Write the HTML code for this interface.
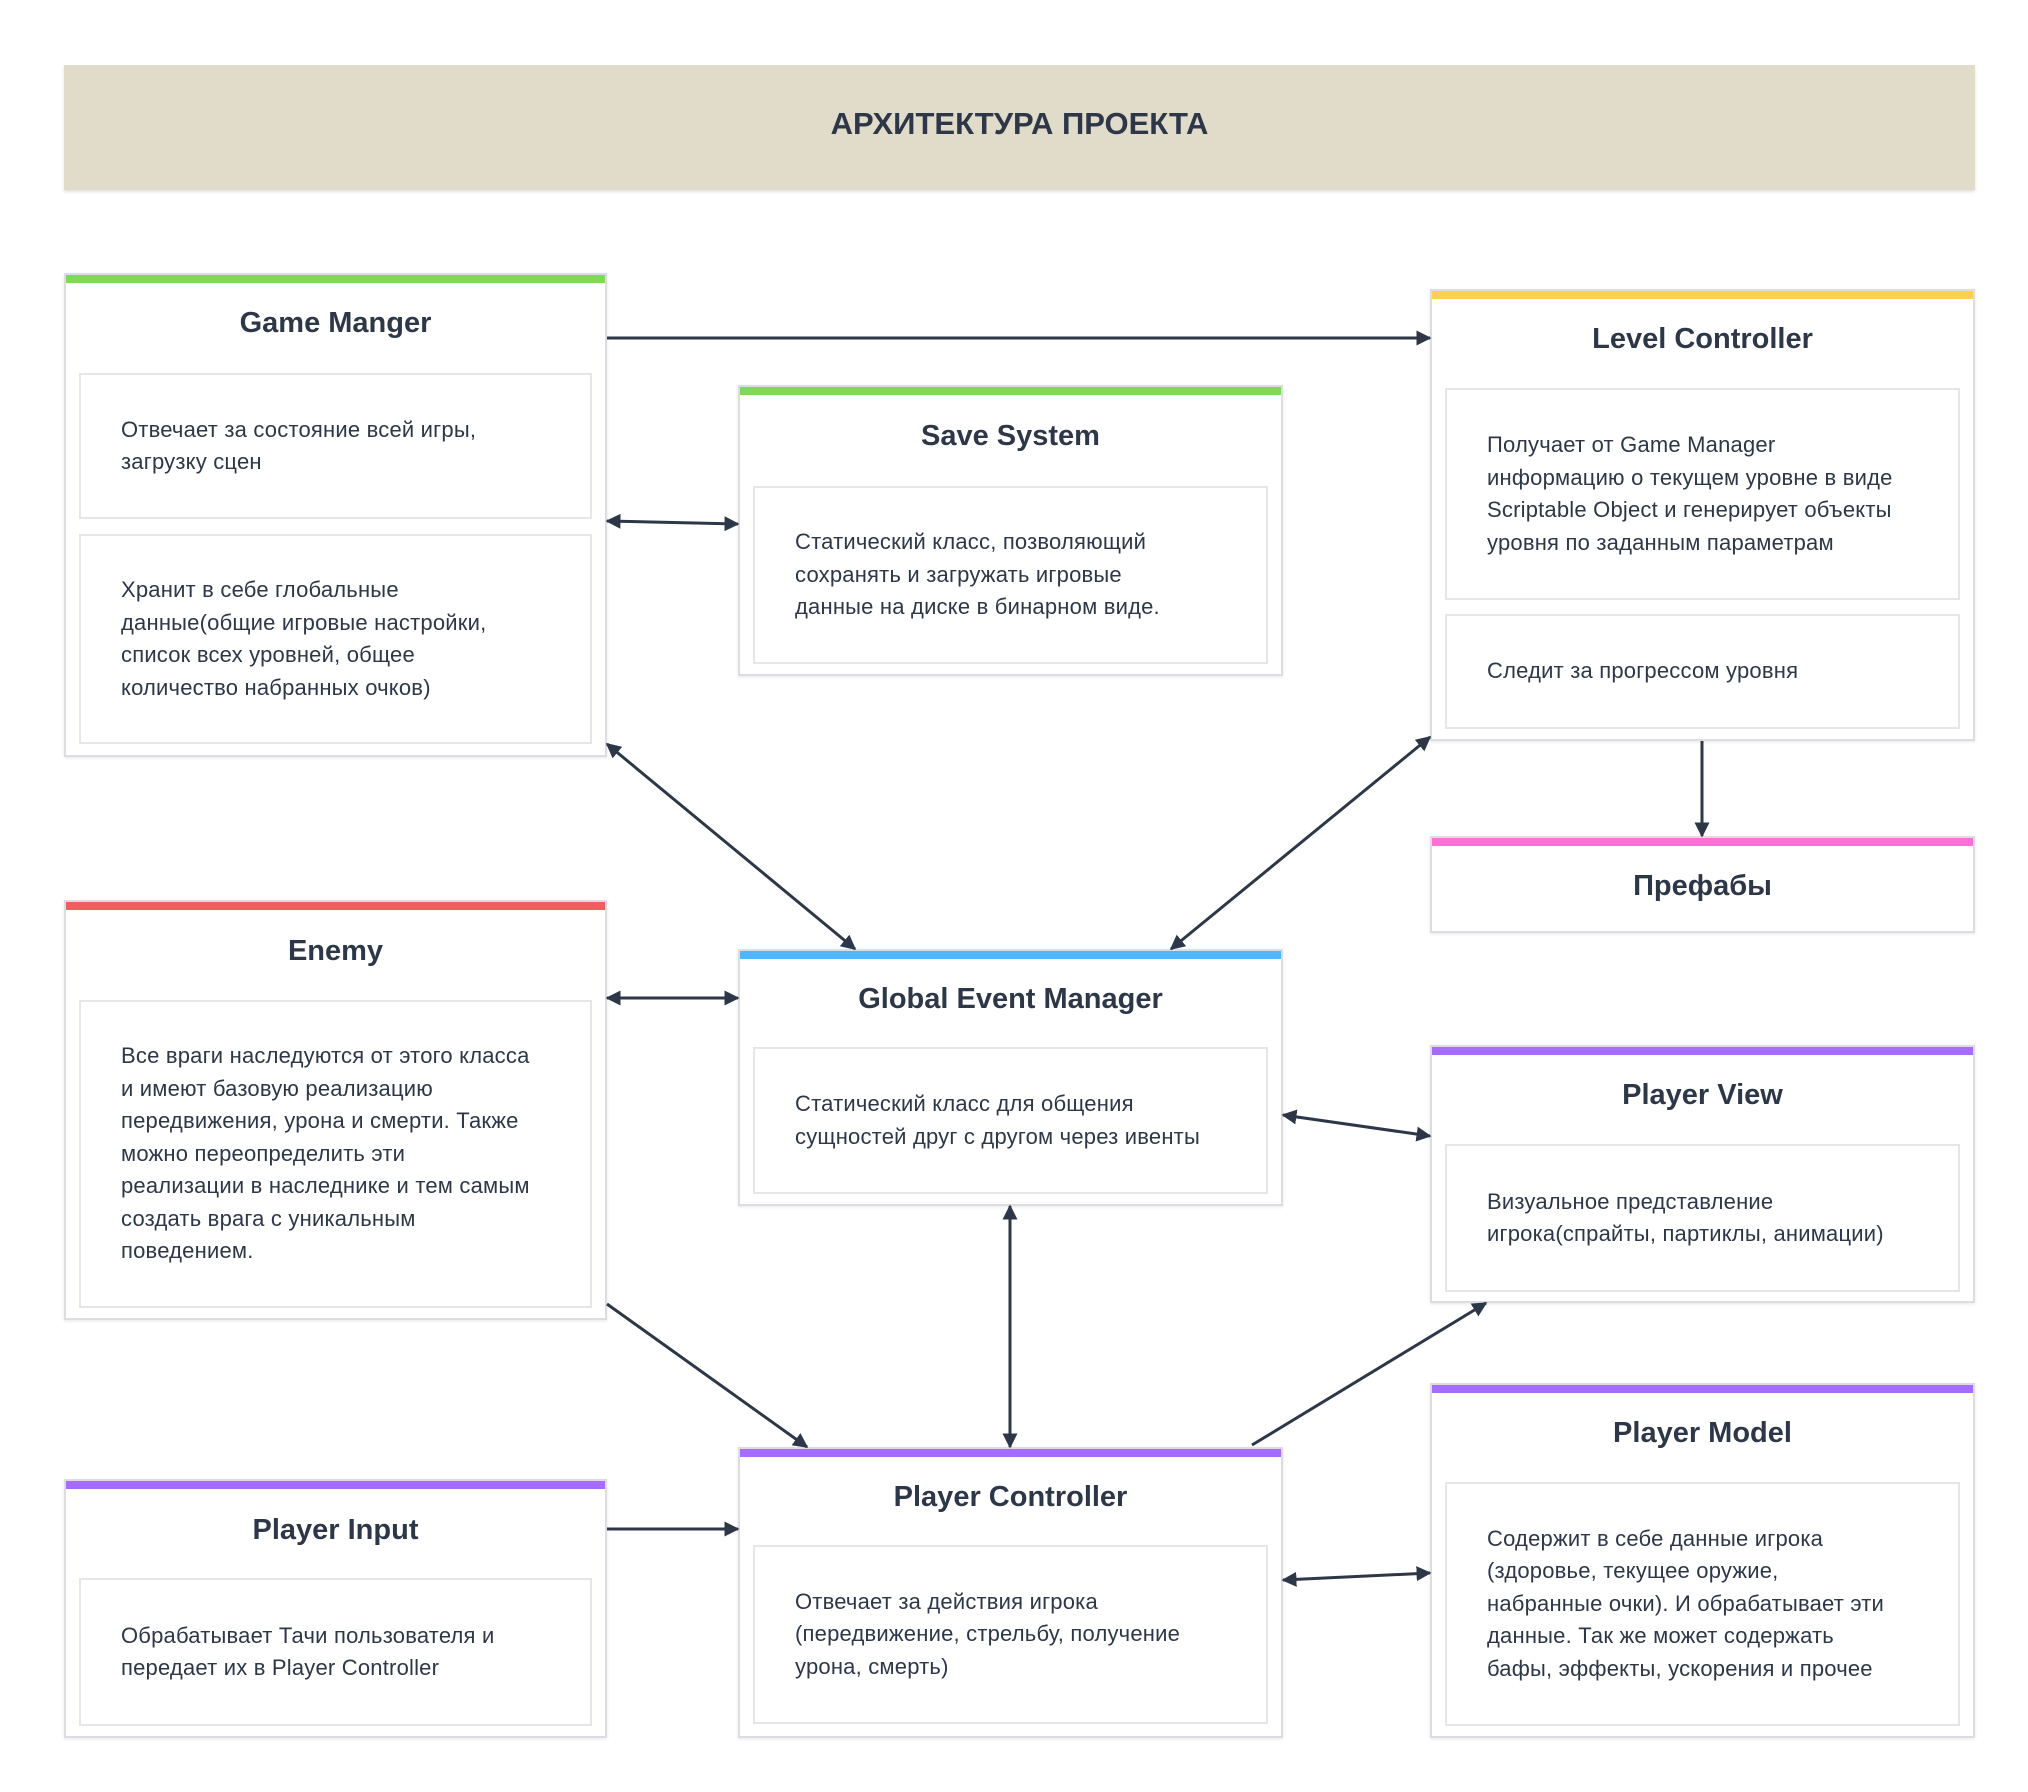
<!DOCTYPE html>
<html><head><meta charset="utf-8"><style>
body{margin:0;width:2028px;height:1792px;background:#fff;position:relative;overflow:hidden;font-family:"Liberation Sans","DejaVu Sans",sans-serif;color:#2d3748}
.hdr{position:absolute;left:64px;top:65px;width:1911px;height:125px;background:#e1dcc9;box-shadow:0 2px 3px rgba(0,0,0,.12);display:flex;align-items:center;justify-content:center;font-weight:bold;font-size:31px;padding-bottom:8px;box-sizing:border-box}
.n{position:absolute;background:#fff;border:2px solid #dcdce2;box-sizing:border-box;box-shadow:0 1px 3px rgba(0,0,0,.1)}
.bar{position:absolute;left:0;right:0;top:0;height:8px}
.t{position:absolute;left:0;right:0;text-align:center;font-weight:bold;font-size:29px;line-height:34px}
.in{position:absolute;left:13px;right:13px;border:2px solid #e6e6e9;box-sizing:border-box;display:flex;align-items:center;padding:0 40px;font-size:22px;line-height:32.5px;white-space:nowrap;letter-spacing:0.2px}
svg{position:absolute;left:0;top:0}
</style></head><body>
<div class="hdr">АРХИТЕКТУРА ПРОЕКТА</div>

<div class="n" style="left:64px;top:273px;width:543px;height:484px"><div class="bar" style="background:#7ed957"></div><div class="t" style="top:31px">Game Manger</div>
<div class="in" style="top:98px;height:146px"><div>Отвечает за состояние всей игры,<br>загрузку сцен</div></div>
<div class="in" style="top:259px;height:210px"><div>Хранит в себе глобальные<br>данные(общие игровые настройки,<br>список всех уровней, общее<br>количество набранных очков)</div></div></div>

<div class="n" style="left:738px;top:385px;width:545px;height:291px"><div class="bar" style="background:#7ed957"></div><div class="t" style="top:32px">Save System</div>
<div class="in" style="top:99px;height:178px"><div>Статический класс, позволяющий<br>сохранять и загружать игровые<br>данные на диске в бинарном виде.</div></div></div>

<div class="n" style="left:1430px;top:289px;width:545px;height:452px"><div class="bar" style="background:#ffd04d"></div><div class="t" style="top:31px">Level Controller</div>
<div class="in" style="top:97px;height:212px"><div>Получает от Game Manager<br>информацию о текущем уровне в виде<br>Scriptable Object и генерирует объекты<br>уровня по заданным параметрам</div></div>
<div class="in" style="top:323px;height:115px"><div>Следит за прогрессом уровня</div></div></div>

<div class="n" style="left:1430px;top:836px;width:545px;height:97px"><div class="bar" style="background:#ff6fd8"></div><div class="t" style="top:31px">Префабы</div></div>

<div class="n" style="left:64px;top:900px;width:543px;height:420px"><div class="bar" style="background:#f25c5c"></div><div class="t" style="top:32px">Enemy</div>
<div class="in" style="top:98px;height:308px"><div>Все враги наследуются от этого класса<br>и имеют базовую реализацию<br>передвижения, урона и смерти. Также<br>можно переопределить эти<br>реализации в наследнике и тем самым<br>создать врага с уникальным<br>поведением.</div></div></div>

<div class="n" style="left:738px;top:949px;width:545px;height:257px"><div class="bar" style="background:#4db8ff"></div><div class="t" style="top:31px">Global Event Manager</div>
<div class="in" style="top:96px;height:147px"><div>Статический класс для общения<br>сущностей друг с другом через ивенты</div></div></div>

<div class="n" style="left:1430px;top:1045px;width:545px;height:258px"><div class="bar" style="background:#a66cff"></div><div class="t" style="top:31px">Player View</div>
<div class="in" style="top:97px;height:148px"><div>Визуальное представление<br>игрока(спрайты, партиклы, анимации)</div></div></div>

<div class="n" style="left:1430px;top:1383px;width:545px;height:355px"><div class="bar" style="background:#a66cff"></div><div class="t" style="top:31px">Player Model</div>
<div class="in" style="top:97px;height:244px"><div>Содержит в себе данные игрока<br>(здоровье, текущее оружие,<br>набранные очки). И обрабатывает эти<br>данные. Так же может содержать<br>бафы, эффекты, ускорения и прочее</div></div></div>

<div class="n" style="left:64px;top:1479px;width:543px;height:259px"><div class="bar" style="background:#a66cff"></div><div class="t" style="top:32px">Player Input</div>
<div class="in" style="top:97px;height:148px"><div>Обрабатывает Тачи пользователя и<br>передает их в Player Controller</div></div></div>

<div class="n" style="left:738px;top:1447px;width:545px;height:291px"><div class="bar" style="background:#a66cff"></div><div class="t" style="top:31px">Player Controller</div>
<div class="in" style="top:96px;height:179px"><div>Отвечает за действия игрока<br>(передвижение, стрельбу, получение<br>урона, смерть)</div></div></div>

<svg width="2028" height="1792" viewBox="0 0 2028 1792">
<defs><marker id="a" viewBox="0 0 10 10" refX="9" refY="5" markerWidth="5" markerHeight="5" orient="auto-start-reverse"><path d="M0,0 L10,5 L0,10 z" fill="#2d3748"/></marker></defs>
<g stroke="#2d3748" stroke-width="3" fill="none">
<line x1="607" y1="338" x2="1430" y2="338" marker-end="url(#a)"/>
<line x1="607" y1="521" x2="738" y2="524" marker-start="url(#a)" marker-end="url(#a)"/>
<line x1="607" y1="744" x2="855" y2="949" marker-start="url(#a)" marker-end="url(#a)"/>
<line x1="1430" y1="737" x2="1171" y2="949" marker-start="url(#a)" marker-end="url(#a)"/>
<line x1="1702" y1="741" x2="1702" y2="836" marker-end="url(#a)"/>
<line x1="607" y1="998" x2="738" y2="998" marker-start="url(#a)" marker-end="url(#a)"/>
<line x1="1283" y1="1115" x2="1430" y2="1136" marker-start="url(#a)" marker-end="url(#a)"/>
<line x1="1010" y1="1206" x2="1010" y2="1447" marker-start="url(#a)" marker-end="url(#a)"/>
<line x1="607" y1="1304" x2="807" y2="1447" marker-end="url(#a)"/>
<line x1="1252" y1="1445" x2="1486" y2="1303" marker-end="url(#a)"/>
<line x1="607" y1="1529" x2="738" y2="1529" marker-end="url(#a)"/>
<line x1="1283" y1="1580" x2="1430" y2="1573" marker-start="url(#a)" marker-end="url(#a)"/>
</g></svg>
</body></html>
